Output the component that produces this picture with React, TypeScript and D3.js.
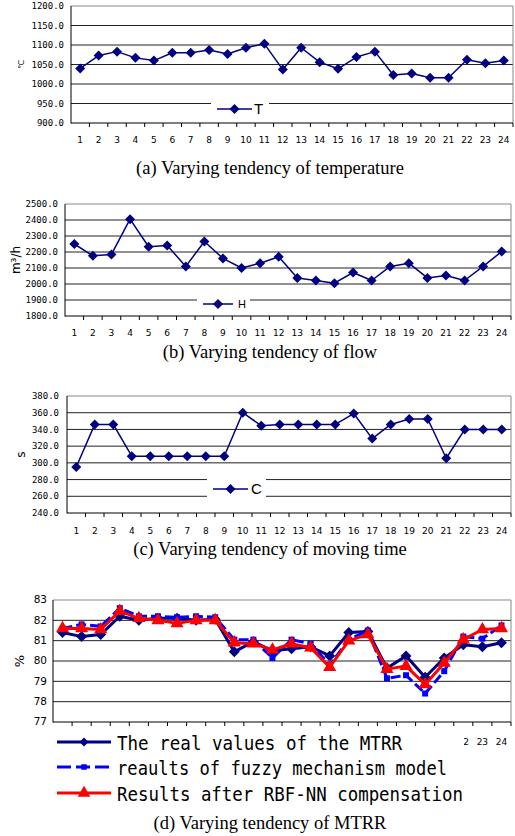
import React from 'react';
import * as d3 from 'd3';

const hours = [1, 2, 3, 4, 5, 6, 7, 8, 9, 10, 11, 12, 13, 14, 15, 16, 17, 18, 19, 20, 21, 22, 23, 24];

const temperature = [1040, 1073, 1083, 1067, 1060, 1080, 1080, 1087, 1077, 1093, 1103, 1037, 1093, 1056, 1039, 1069, 1083, 1023, 1027, 1016, 1016, 1062, 1053, 1060];
const flow = [2250, 2176, 2185, 2405, 2233, 2241, 2110, 2266, 2160, 2100, 2130, 2170, 2038, 2022, 2005, 2072, 2022, 2110, 2130, 2038, 2053, 2022, 2110, 2203];
const movingTime = [295, 346, 346, 308, 308, 308, 308, 308, 308, 360, 344.5, 346, 346, 346, 346, 359, 329, 346, 352.5, 352.5, 305.5, 340, 340, 340];
const mtrrReal = [81.4, 81.2, 81.3, 82.2, 82.0, 82.1, 82.1, 82.0, 82.05, 80.45, 80.95, 80.5, 80.6, 80.7, 80.25, 81.4, 81.45, 79.65, 80.25, 79.2, 80.15, 80.8, 80.7, 80.9];
const mtrrFuzzy = [81.6, 81.8, 81.7, 82.6, 82.2, 82.2, 82.15, 82.2, 82.15, 81.05, 81.05, 80.15, 81.05, 80.85, 79.8, 81.05, 81.5, 79.15, 79.3, 78.4, 79.5, 81.2, 81.1, 81.75];
const mtrrRbf = [81.6, 81.6, 81.55, 82.45, 82.1, 82.0, 81.85, 82.0, 82.0, 80.9, 80.85, 80.55, 80.85, 80.65, 79.7, 81.0, 81.3, 79.6, 79.75, 78.85, 79.9, 81.05, 81.55, 81.6];

const tempTicks = [900, 950, 1000, 1050, 1100, 1150, 1200];
const flowTicks = [1800, 1900, 2000, 2100, 2200, 2300, 2400, 2500];
const timeTicks = [240, 260, 280, 300, 320, 340, 360, 380];
const mtrrTicks = [77, 78, 79, 80, 81, 82, 83];

const legendNames = ['The real values of the MTRR', 'reaults of fuzzy mechanism model', 'Results after RBF-NN compensation'];

const NAVY = '#000080';
const BLUE = '#0000FF';
const RED = '#FF0000';

const diamondType = {
  draw(ctx: any, size: number) {
    const r = Math.sqrt(size / 2);
    ctx.moveTo(0, -r);
    ctx.lineTo(r, 0);
    ctx.lineTo(0, r);
    ctx.lineTo(-r, 0);
    ctx.closePath();
  },
};

type SeriesDef = {
  values: number[];
  color: string;
  width: number;
  dash?: string;
  symbol: any;
  size: number;
};

type PanelProps = {
  left: number;
  right: number;
  top: number;
  bottom: number;
  ticks: number[];
  fmt: (v: number) => string;
  tickFont: string;
  tickFontSize: number;
  tickRight: number;
  xLabelY: number;
  xLabelMinX?: number;
  series: SeriesDef[];
  yLabel: string;
  yLabelX: number;
  yLabelSize: number;
  caption: string;
  captionY: number;
  children?: React.ReactNode;
};

function Panel(p: PanelProps) {
  const x = d3.scaleBand<number>().domain(hours).range([p.left, p.right]).padding(0);
  const y = d3
    .scaleLinear()
    .domain([p.ticks[0], p.ticks[p.ticks.length - 1]])
    .range([p.bottom, p.top]);
  const cx = (h: number) => (x(h) as number) + x.bandwidth() / 2;
  const midY = (p.top + p.bottom) / 2;
  const minX = p.xLabelMinX ?? -Infinity;
  return (
    <g>
      {p.ticks.map((t, i) =>
        i === 0 ? null : (
          <line
            key={'g' + t}
            x1={p.left}
            x2={p.right}
            y1={y(t)}
            y2={y(t)}
            stroke={i === p.ticks.length - 1 ? '#888' : '#222'}
            strokeWidth={1}
          />
        )
      )}
      <line x1={p.right} x2={p.right} y1={p.top} y2={p.bottom} stroke="#888" strokeWidth={1} />
      <line x1={p.left} x2={p.left} y1={p.top} y2={p.bottom + 0.5} stroke="#000" strokeWidth={1} />
      <line x1={p.left} x2={p.right} y1={p.bottom} y2={p.bottom} stroke="#000" strokeWidth={1} />
      {hours.map((h) => (
        <line
          key={'t' + h}
          x1={(x(h) as number) + x.bandwidth()}
          x2={(x(h) as number) + x.bandwidth()}
          y1={p.bottom}
          y2={p.bottom + 4}
          stroke="#000"
          strokeWidth={1}
        />
      ))}
      {p.ticks.map((t) => (
        <text
          key={'yl' + t}
          x={p.tickRight}
          y={y(t) + 3.2}
          textAnchor="end"
          fontFamily={p.tickFont}
          fontSize={p.tickFontSize}
          fill="#000"
        >
          {p.fmt(t)}
        </text>
      ))}
      {hours
        .filter((h) => cx(h) > minX)
        .map((h) => (
          <text
            key={'xl' + h}
            x={cx(h)}
            y={p.xLabelY}
            textAnchor="middle"
            fontFamily="DejaVu Sans"
            fontSize={9}
            fill="#000"
          >
            {h}
          </text>
        ))}
      <text
        transform={`translate(${p.yLabelX},${midY}) rotate(-90)`}
        textAnchor="middle"
        fontFamily="DejaVu Sans"
        fontSize={p.yLabelSize}
        fill="#000"
      >
        {p.yLabel}
      </text>
      {p.series.map((s, si) => {
        const line = d3
          .line<number>()
          .x((_, i) => cx(hours[i]))
          .y((v) => y(v));
        const sym = d3.symbol().type(s.symbol).size(s.size)();
        return (
          <g key={'s' + si}>
            <path
              d={line(s.values) || ''}
              fill="none"
              stroke={s.color}
              strokeWidth={s.width}
              strokeDasharray={s.dash}
              strokeLinejoin="round"
            />
            {s.values.map((v, i) => (
              <path
                key={i}
                d={sym || ''}
                transform={`translate(${cx(hours[i])},${y(v)})`}
                fill={s.color}
              />
            ))}
          </g>
        );
      })}
      {p.children}
      <text
        x={270}
        y={p.captionY}
        textAnchor="middle"
        fontFamily="Liberation Serif"
        fontSize={18.5}
        fill="#000"
      >
        {p.caption}
      </text>
    </g>
  );
}

function SmallLegend(props: {
  x0: number;
  x1: number;
  y0: number;
  y1: number;
  cy: number;
  lx0: number;
  lx1: number;
  label: string;
  labelX: number;
  fontSize: number;
}) {
  const sym = d3.symbol().type(diamondType).size(50)();
  const mx = (props.lx0 + props.lx1) / 2;
  return (
    <g>
      <rect x={props.x0} y={props.y0} width={props.x1 - props.x0} height={props.y1 - props.y0} fill="#fff" />
      <line x1={props.lx0} x2={props.lx1} y1={props.cy} y2={props.cy} stroke={NAVY} strokeWidth={1.5} />
      <path d={sym || ''} transform={`translate(${mx},${props.cy})`} fill={NAVY} />
      <text
        x={props.labelX}
        y={props.cy + props.fontSize * 0.36}
        fontFamily="Liberation Sans"
        fontSize={props.fontSize}
        fill="#000"
      >
        {props.label}
      </text>
    </g>
  );
}

export default function App() {
  const f1 = (v: number) => v.toFixed(1);
  const f0 = (v: number) => String(v);
  const navySmall = (values: number[]): SeriesDef[] => [
    { values, color: NAVY, width: 1.5, symbol: diamondType, size: 50 },
  ];
  const legendRows = [
    { color: NAVY, dash: undefined as string | undefined, symbol: diamondType, size: 40, y: 742, baseline: 750 },
    { color: BLUE, dash: '14,5', symbol: d3.symbolSquare, size: 30, y: 767, baseline: 775 },
    { color: RED, dash: undefined as string | undefined, symbol: d3.symbolTriangle, size: 70, y: 793, baseline: 801 },
  ];
  const legendWidths = [285, 330, 346];
  return (
    <svg
      width={515}
      height={836}
      style={{ position: 'absolute', left: 0, top: 0, background: '#fff' }}
    >
      <rect x={0} y={0} width={515} height={836} fill="#fff" />
      <Panel
        left={71}
        right={513}
        top={6}
        bottom={123}
        ticks={tempTicks}
        fmt={f1}
        tickFont="DejaVu Sans Mono"
        tickFontSize={9}
        tickRight={64}
        xLabelY={143}
        series={navySmall(temperature)}
        yLabel="℃"
        yLabelX={24}
        yLabelSize={8}
        caption="(a) Varying tendency of temperature"
        captionY={174}
      >
        <SmallLegend x0={211} x1={269} y0={99} y1={119} cy={109} lx0={217} lx1={252} label="T" labelX={254} fontSize={15} />
      </Panel>
      <Panel
        left={65}
        right={511}
        top={204}
        bottom={316}
        ticks={flowTicks}
        fmt={f1}
        tickFont="DejaVu Sans Mono"
        tickFontSize={9}
        tickRight={58}
        xLabelY={336}
        series={navySmall(flow)}
        yLabel="m³/h"
        yLabelX={20}
        yLabelSize={12}
        caption="(b) Varying tendency of flow"
        captionY={358}
      >
        <SmallLegend x0={197} x1={250} y0={291} y1={313} cy={304} lx0={203} lx1={233} label="H" labelX={238} fontSize={11} />
      </Panel>
      <Panel
        left={67}
        right={511}
        top={396}
        bottom={513}
        ticks={timeTicks}
        fmt={f1}
        tickFont="DejaVu Sans Mono"
        tickFontSize={9}
        tickRight={59}
        xLabelY={534}
        series={navySmall(movingTime)}
        yLabel="s"
        yLabelX={25}
        yLabelSize={12}
        caption="(c) Varying tendency of moving time"
        captionY={555}
      >
        <SmallLegend x0={207} x1={266} y0={474} y1={503} cy={489} lx0={213} lx1={248} label="C" labelX={251} fontSize={15} />
      </Panel>
      <Panel
        left={53}
        right={511}
        top={600}
        bottom={722}
        ticks={mtrrTicks}
        fmt={f0}
        tickFont="DejaVu Sans"
        tickFontSize={10.5}
        tickRight={47}
        xLabelY={745}
        xLabelMinX={455}
        series={[
          { values: mtrrReal, color: NAVY, width: 3, symbol: diamondType, size: 60 },
          { values: mtrrFuzzy, color: BLUE, width: 3, dash: '10,4', symbol: d3.symbolSquare, size: 36 },
          { values: mtrrRbf, color: RED, width: 3, symbol: d3.symbolTriangle, size: 75 },
        ]}
        yLabel="%"
        yLabelX={24}
        yLabelSize={13}
        caption="(d) Varying tendency of MTRR"
        captionY={829}
      >
        <rect x={0} y={728} width={464} height={78} fill="#fff" />
        {legendRows.map((r, i) => {
          const sym = d3.symbol().type(r.symbol).size(r.size)();
          return (
            <g key={'lg' + i}>
              <line x1={57} x2={111} y1={r.y} y2={r.y} stroke={r.color} strokeWidth={3} strokeDasharray={r.dash} />
              <path d={sym || ''} transform={`translate(84,${r.y})`} fill={r.color} />
              <text
                x={117}
                y={r.baseline}
                fontFamily="DejaVu Sans Mono"
                fontSize={20}
                textLength={legendWidths[i]}
                lengthAdjust="spacingAndGlyphs"
                fill="#000"
              >
                {legendNames[i]}
              </text>
            </g>
          );
        })}
      </Panel>
    </svg>
  );
}
